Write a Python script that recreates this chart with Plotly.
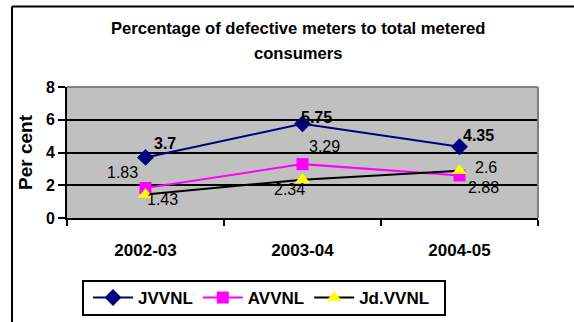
import plotly.graph_objects as go

# Financial years on the category axis
years = ["2002-03", "2003-04", "2004-05"]

# Defective meters as a percentage of total metered consumers
jvvnl = [3.7, 5.75, 4.35]
avvnl = [1.83, 3.29, 2.6]
jdvvnl = [1.43, 2.34, 2.88]

y_ticks = [0, 2, 4, 6, 8]

W, H = 574, 322
L, R, T, B = 67, 36, 87, 104
PW, PH = W - L - R, H - T - B
FONT = "Arial, Liberation Sans"


def px_x(p):
    return (p - L) / PW


def px_y(p):
    return (H - B - p) / PH


fig = go.Figure()

series = [
    ("JVVNL", jvvnl, "#000080", "#000080", "diamond", 13),
    ("AVVNL", avvnl, "#FF00FF", "#FF00FF", "square", 12),
    ("Jd.VVNL", jdvvnl, "#000000", "#FFFF00", "triangle-up", 13),
]
for name, vals, lcol, mcol, sym, msize in series:
    fig.add_trace(go.Scatter(
        x=years, y=vals, name=name, mode="lines+markers",
        line=dict(color=lcol, width=2),
        marker=dict(symbol=sym, size=msize, color=mcol, line=dict(width=0)),
        cliponaxis=False,
    ))

# Value labels: (values, bold, pixel offsets per point)
label_sets = [
    (jvvnl, True, [(19, 14), (14, 6), (19, 11)]),
    (avvnl, False, [(-23, 16), (22, 18), (26, 8)]),
    (jdvvnl, False, [(17, -5), (-13, -10), (24, -17)]),
]
annotations = []
for vals, bold, offs in label_sets:
    for yr, v, (dx, dy) in zip(years, vals, offs):
        txt = f"<b>{v:g}</b>" if bold else f"{v:g}"
        annotations.append(dict(
            x=yr, y=v, xref="x", yref="y", text=txt, showarrow=False,
            xshift=dx, yshift=dy,
            font=dict(family=FONT, size=16, color="#000000"),
        ))

# Two-line chart title
for line_text, ypix in [("Percentage of defective meters to total metered", 28),
                        ("consumers", 53)]:
    annotations.append(dict(
        x=px_x(298), y=px_y(ypix), xref="paper", yref="paper",
        text=f"<b>{line_text}</b>",
        showarrow=False, xanchor="center", yanchor="middle",
        font=dict(family=FONT, size=16.6, color="#000000"),
    ))

shapes = [
    # outer chart frame (top and left edges)
    dict(type="line", xref="paper", yref="paper",
         x0=px_x(12), x1=px_x(600), y0=px_y(6.5), y1=px_y(6.5),
         line=dict(color="#000000", width=2)),
    dict(type="line", xref="paper", yref="paper",
         x0=px_x(12), x1=px_x(12), y0=px_y(6.5), y1=px_y(340),
         line=dict(color="#000000", width=2)),
    # gray plot-area border on top and right
    dict(type="line", xref="paper", yref="paper", x0=0, x1=1, y0=1, y1=1,
         line=dict(color="#808080", width=2), layer="above"),
    dict(type="line", xref="paper", yref="paper", x0=1, x1=1, y0=0, y1=1,
         line=dict(color="#808080", width=2), layer="above"),
    # legend frame
    dict(type="rect", xref="paper", yref="paper",
         x0=px_x(83), x1=px_x(445), y0=px_y(281), y1=px_y(315),
         line=dict(color="#000000", width=2), fillcolor="rgba(0,0,0,0)"),
]

fig.update_layout(
    width=W, height=H,
    margin=dict(l=L, r=R, t=T, b=B, autoexpand=False),
    paper_bgcolor="#FFFFFF",
    plot_bgcolor="#C0C0C0",
    font=dict(family=FONT, color="#000000"),
    annotations=annotations,
    shapes=shapes,
    showlegend=True,
    legend=dict(
        orientation="h", x=px_x(88), y=px_y(298),
        xanchor="left", yanchor="middle",
        borderwidth=0, bgcolor="rgba(0,0,0,0)",
        font=dict(family=FONT, size=17, color="#000000", weight="bold"),
        itemwidth=40, tracegroupgap=0,
    ),
    xaxis=dict(
        type="category", tickson="boundaries", automargin=False,
        ticks="outside", ticklen=6, tickcolor="#000000", tickwidth=2,
        showline=True, linecolor="#000000", linewidth=2,
        showgrid=False, zeroline=False,
        tickfont=dict(family=FONT, size=17, weight="bold"),
        ticklabelstandoff=16,
        range=[-0.5, 2.5],
    ),
    yaxis=dict(
        range=[0, 8], tickvals=y_ticks, automargin=False,
        ticks="outside", ticklen=7, tickcolor="#000000", tickwidth=2,
        showline=True, linecolor="#000000", linewidth=2,
        showgrid=True, gridcolor="#000000", gridwidth=2,
        zeroline=False,
        tickfont=dict(family=FONT, size=16, weight="bold"),
        title=dict(text="<b>Per cent</b>", standoff=8,
                   font=dict(family=FONT, size=19)),
    ),
)

fig.write_html("out.html")
